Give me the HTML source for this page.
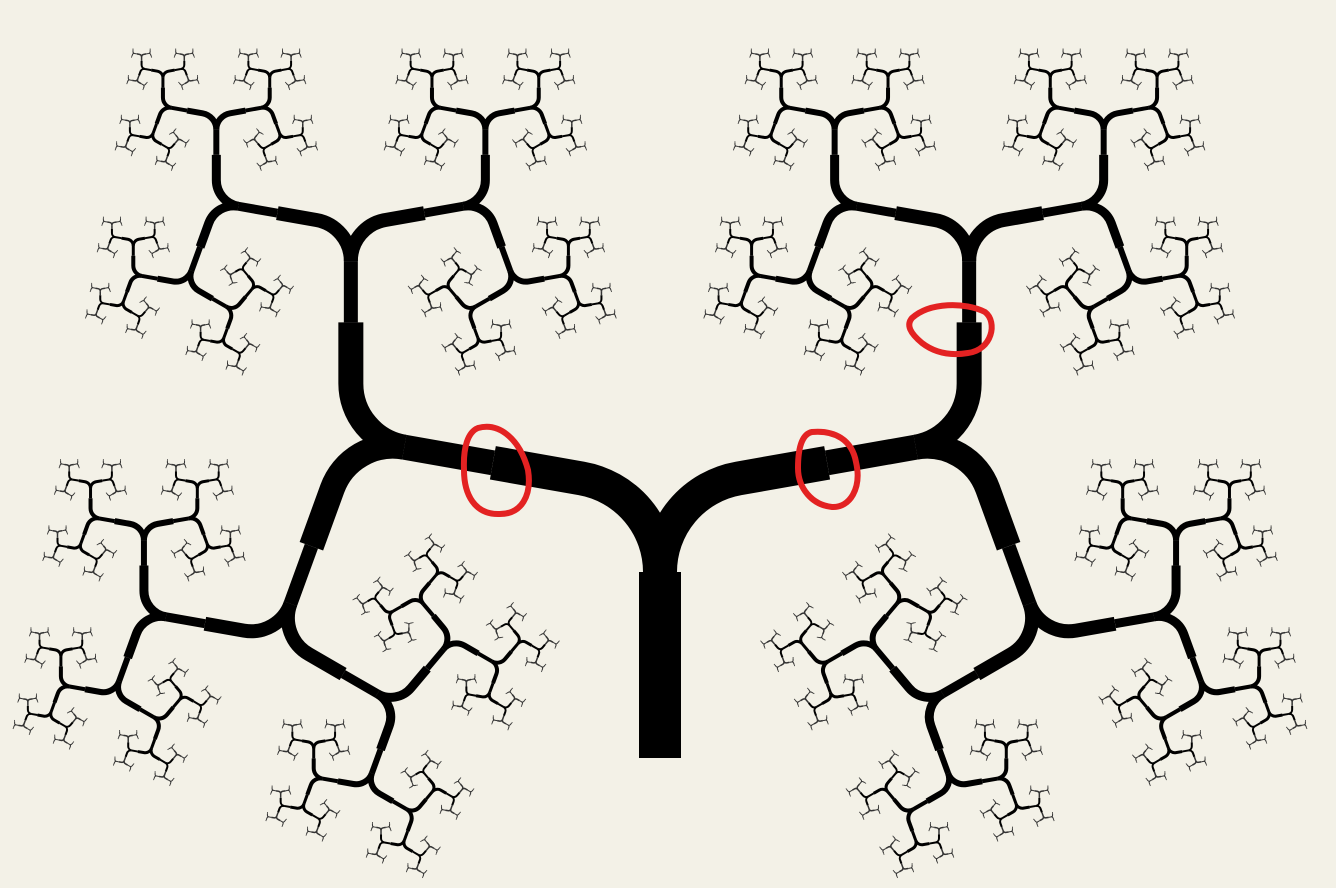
<!DOCTYPE html>
<html><head><meta charset="utf-8"><title>Fractal tree</title>
<style>html,body{margin:0;padding:0;background:#f3f1e7;overflow:hidden;}svg{display:block;}</style></head>
<body>
<svg id="tree" width="1336" height="888" viewBox="0 0 1336 888" xmlns="http://www.w3.org/2000/svg">
<rect x="0" y="0" width="1336" height="888" fill="#f3f1e7"/>
<g id="branches"></g>
<g fill="none" stroke="#e32222" stroke-width="6" stroke-linecap="round">
<path d="M478,428 C500,422 520,440 528,470 C532,495 522,515 498,514 C475,514 464,495 464,470 C463,447 468,432 478,428 Z"/>
<path d="M812,432 C835,430 852,440 856,462 C862,488 850,508 832,507 C812,505 798,488 798,468 C798,448 802,434 812,432 Z"/>
<path d="M912,318 C930,302 965,302 985,312 C998,322 992,350 968,353 C950,356 935,353 922,343 C910,333 906,325 912,318 Z"/>
</g>
</svg>
<script>
// tree parameters (per level)
const levelScale = [1, 0.68, 0.44, 0.28, 0.175, 0.11, 0.07, 0.044, 0.028, 0.018];
const levelWidths = [42, 34, 25, 14, 9, 6, 4, 3, 2, 1.5, 1, 0.8];
const turnAngle = [80];
const baseRadius = [95];
const baseStraight = [180];
const trunk = [660, 758, 572];

const g = document.getElementById('branches');
const NS = 'http://www.w3.org/2000/svg';
const rad = d => d * Math.PI / 180;
function addPath(d, w, name) {
  const p = document.createElementNS(NS, 'path');
  p.setAttribute('d', d);
  p.setAttribute('stroke', w < 2 ? '#333' : '#000');
  p.setAttribute('stroke-width', w);
  p.setAttribute('fill', 'none');
  p.setAttribute('stroke-linecap', 'butt');
  
  
  g.appendChild(p);
}
function seg(x, y, h, s, lvl) {
  if (lvl > levelScale.length) return;
  const k = levelScale[lvl - 1];
  const R = baseRadius[0] * k, S = baseStraight[0] * k, th = turnAngle[0];
  const cx = x + R * Math.cos(rad(h + s * 90)), cy = y + R * Math.sin(rad(h + s * 90));
  const a1 = h - s * 90 + s * th;
  const ax = cx + R * Math.cos(rad(a1)), ay = cy + R * Math.sin(rad(a1));
  const h1 = h + s * th;
  const mx = ax + S / 2 * Math.cos(rad(h1)), my = ay + S / 2 * Math.sin(rad(h1));
  const ex = ax + S * Math.cos(rad(h1)), ey = ay + S * Math.sin(rad(h1));
  const sweep = s > 0 ? 0 : 1;
  const w = levelWidths[lvl], w2 = levelWidths[lvl + 1];
  addPath(`M${x.toFixed(2)},${(-y).toFixed(2)} A${R.toFixed(2)},${R.toFixed(2)} 0 0 ${sweep} ${ax.toFixed(2)},${(-ay).toFixed(2)} L${mx.toFixed(2)},${(-my).toFixed(2)}`, w, 'branch');
  addPath(`M${mx.toFixed(2)},${(-my).toFixed(2)} L${ex.toFixed(2)},${(-ey).toFixed(2)}`, w2, 'branch');
  seg(ex, ey, h1, 1, lvl + 1);
  seg(ex, ey, h1, -1, lvl + 1);
}
addPath(`M${trunk[0]},${trunk[1]} L${trunk[0]},${trunk[2]}`, levelWidths[0], 'trunk');
seg(trunk[0], -trunk[2], 90, 1, 1);
seg(trunk[0], -trunk[2], 90, -1, 1);
</script>
</body></html>
